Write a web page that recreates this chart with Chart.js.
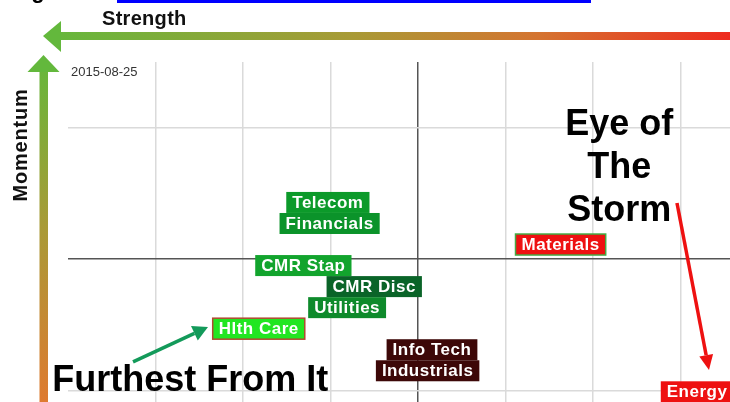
<!DOCTYPE html>
<html>
<head>
<meta charset="utf-8">
<script src="https://cdn.jsdelivr.net/npm/chart.js@4/dist/chart.umd.min.js"></script>
<style>
  html, body { margin: 0; padding: 0; background: #fff; overflow: hidden; }
  #wrap { position: relative; width: 730px; height: 402px; }
</style>
</head>
<body>
<div id="wrap"><canvas id="rrg"></canvas></div>
<script>
// sectors (label, strength, momentum)
var sectors = ["Telecom", "Financials", "CMR Stap", "CMR Disc", "Utilities", "Hlth Care", "Info Tech", "Industrials", "Materials", "Energy"];
var strength = [98.97, 98.99, 98.69, 99.50, 99.19, 98.18, 100.16, 100.11, 101.63, 103.19];
var momentum = [100.43, 100.27, 99.95, 99.79, 99.63, 99.47, 99.31, 99.15, 100.11, 98.99];

// box colours of each sector
var boxColors = ["#0c9a2a", "#0b932a", "#12a42d", "#0a6428", "#0e8a2b", "#22e622", "#3d0808", "#3d0808", "#ee1111", "#ee1111"];
var boxBorders = [null, null, null, null, null, "#b04a32", null, null, "#44aa44", null];

// grid ticks
var xTicks = [97, 98, 99, 100, 101, 102, 103];
var yTicks = [99, 100, 101];

var dateText = "2015-08-25";

// annotations (data units)
var stormLines = ["Eye of", "The", "Storm"];
var stormX = 102.30;
var stormY = [100.943, 100.616, 100.289];
var furthestText = "Furthest From It";
var furthestPos = [95.82, 98.996];
var greenArrow = [96.743, 99.217, 97.60, 99.483];
var redArrow = [102.96, 100.426, 103.326, 99.156];

var points = [];
for (var i = 0; i < sectors.length; i++) {
    points.push({ x: strength[i], y: momentum[i] });
}

var FONT = '"Liberation Sans", Arial, sans-serif';

function drawArrow(ctx, x1, y1, x2, y2, color, width, headLen, headW) {
    var ang = Math.atan2(y2 - y1, x2 - x1);
    var bx = x2 - Math.cos(ang) * headLen;
    var by = y2 - Math.sin(ang) * headLen;
    ctx.save();
    ctx.strokeStyle = color;
    ctx.fillStyle = color;
    ctx.lineWidth = width;
    ctx.beginPath();
    ctx.moveTo(x1, y1);
    ctx.lineTo(bx, by);
    ctx.stroke();
    ctx.beginPath();
    ctx.moveTo(x2, y2);
    ctx.lineTo(bx + Math.sin(ang) * headW, by - Math.cos(ang) * headW);
    ctx.lineTo(bx - Math.sin(ang) * headW, by + Math.cos(ang) * headW);
    ctx.closePath();
    ctx.fill();
    ctx.restore();
}

var overlay = {
    id: "overlay",
    beforeDraw: function (chart) {
        var ctx = chart.ctx;
        ctx.save();

        // blue bar and cut heading at the top
        ctx.fillStyle = "#0000ff";
        ctx.fillRect(117, 0, 474, 3);
        ctx.fillStyle = "#000";
        ctx.font = "bold 22px " + FONT;
        ctx.textAlign = "center";
        ctx.fillText("g", 38, -2);

        // strength arrow (pointing left)
        var g1 = ctx.createLinearGradient(43, 0, 730, 0);
        g1.addColorStop(0, "#63b83c");
        g1.addColorStop(0.45, "#a89a36");
        g1.addColorStop(0.72, "#d47430");
        g1.addColorStop(1, "#ee2a1e");
        ctx.fillStyle = g1;
        ctx.fillRect(60, 32, 670, 8);
        ctx.fillStyle = "#63b83c";
        ctx.beginPath();
        ctx.moveTo(43, 36);
        ctx.lineTo(61, 21);
        ctx.lineTo(61, 52);
        ctx.closePath();
        ctx.fill();

        // momentum arrow (pointing up)
        var g2 = ctx.createLinearGradient(0, 55, 0, 402);
        g2.addColorStop(0, "#63b83c");
        g2.addColorStop(0.5, "#a99a36");
        g2.addColorStop(1, "#de7a30");
        ctx.fillStyle = g2;
        ctx.fillRect(39.5, 70, 8.5, 332);
        ctx.fillStyle = "#63b83c";
        ctx.beginPath();
        ctx.moveTo(43.5, 55);
        ctx.lineTo(27.5, 72);
        ctx.lineTo(59.5, 72);
        ctx.closePath();
        ctx.fill();

        // axis titles
        ctx.fillStyle = "#111";
        ctx.font = "bold 20px " + FONT;
        ctx.letterSpacing = "0.3px";
        ctx.textAlign = "left";
        ctx.textBaseline = "alphabetic";
        ctx.fillText("Strength", 102, 25);
        ctx.save();
        ctx.translate(21, 145);
        ctx.rotate(-Math.PI / 2);
        ctx.letterSpacing = "0.8px";
        ctx.textAlign = "center";
        ctx.textBaseline = "middle";
        ctx.fillText("Momentum", 0, 0);
        ctx.restore();
        ctx.letterSpacing = "0px";

        // date
        var a = chart.chartArea;
        ctx.fillStyle = "#333";
        ctx.font = "13px " + FONT;
        ctx.textBaseline = "middle";
        ctx.fillText(dateText, a.left + 3, a.top + 10);
        ctx.restore();
    },
    afterDatasetsDraw: function (chart) {
        var ctx = chart.ctx;
        var xs = chart.scales.x, ys = chart.scales.y;
        var meta = chart.getDatasetMeta(0);
        ctx.save();

        // sector label boxes
        ctx.font = "bold 17px " + FONT;
        ctx.letterSpacing = "0.5px";
        ctx.textAlign = "center";
        ctx.textBaseline = "middle";
        for (var i = 0; i < sectors.length; i++) {
            var el = meta.data[i];
            var w = ctx.measureText(sectors[i]).width + 12;
            var h = 21;
            ctx.fillStyle = boxColors[i];
            ctx.fillRect(el.x - w / 2, el.y - h / 2, w, h);
            if (boxBorders[i]) {
                ctx.strokeStyle = boxBorders[i];
                ctx.lineWidth = 1.5;
                ctx.strokeRect(el.x - w / 2, el.y - h / 2, w, h);
            }
            ctx.fillStyle = "#fff";
            ctx.fillText(sectors[i], el.x, el.y + 1);
        }
        ctx.letterSpacing = "0px";

        // annotations
        ctx.fillStyle = "#000";
        ctx.font = "bold 36px " + FONT;
        ctx.textBaseline = "alphabetic";
        ctx.textAlign = "center";
        for (var j = 0; j < stormLines.length; j++) {
            ctx.fillText(stormLines[j], xs.getPixelForValue(stormX), ys.getPixelForValue(stormY[j]));
        }
        ctx.textAlign = "left";
        ctx.fillText(furthestText, xs.getPixelForValue(furthestPos[0]), ys.getPixelForValue(furthestPos[1]));

        drawArrow(ctx, xs.getPixelForValue(greenArrow[0]), ys.getPixelForValue(greenArrow[1]),
            xs.getPixelForValue(greenArrow[2]), ys.getPixelForValue(greenArrow[3]), "#139a5a", 3.5, 15, 8);
        drawArrow(ctx, xs.getPixelForValue(redArrow[0]), ys.getPixelForValue(redArrow[1]),
            xs.getPixelForValue(redArrow[2]), ys.getPixelForValue(redArrow[3]), "#ee1111", 3.5, 15, 7);
        ctx.restore();
    }
};

function gridColor(c) {
    return c.tick && c.tick.value === 100 ? "#555555" : "#dadada";
}

new Chart(document.getElementById("rrg"), {
    type: "scatter",
    data: {
        datasets: [{
            label: "Sectors",
            data: points,
            pointRadius: 0,
            pointHoverRadius: 0
        }]
    },
    options: {
        responsive: true,
        maintainAspectRatio: false,
        animation: false,
        events: [],
        layout: { padding: { left: 68, top: 62, right: 0, bottom: 0 } },
        plugins: {
            legend: { display: false },
            tooltip: { enabled: false }
        },
        scales: {
            x: {
                min: 96,
                max: 103.566,
                afterBuildTicks: function (s) { s.ticks = xTicks.map(function (v) { return { value: v }; }); },
                ticks: { display: false },
                border: { display: false },
                grid: { color: gridColor, lineWidth: 1.5, drawTicks: false }
            },
            y: {
                min: 98.9125,
                max: 101.498,
                afterBuildTicks: function (s) { s.ticks = yTicks.map(function (v) { return { value: v }; }); },
                ticks: { display: false },
                border: { display: false },
                grid: { color: gridColor, lineWidth: 1.5, drawTicks: false }
            }
        }
    },
    plugins: [overlay]
});
</script>
</body>
</html>
